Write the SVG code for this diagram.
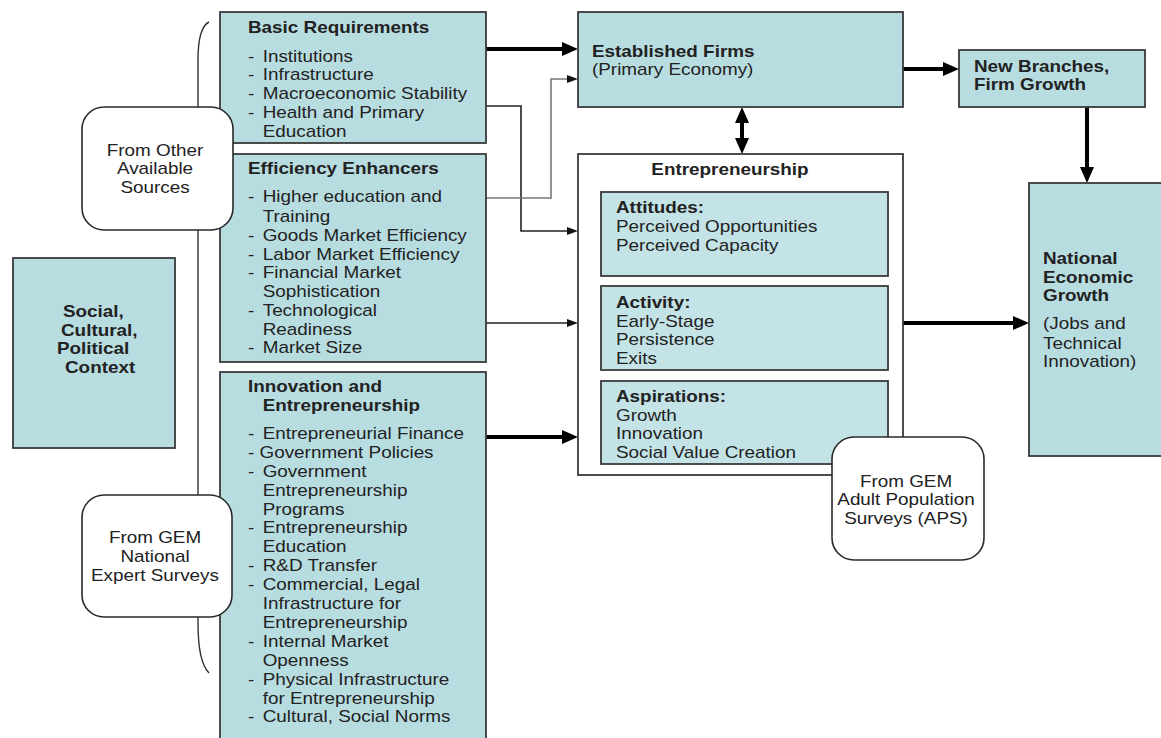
<svg xmlns="http://www.w3.org/2000/svg" width="1161" height="738" viewBox="0 0 1161 738">
<style>
.box{fill:#b8dde1;stroke:#3a3a3a;stroke-width:1.8}
.sub{fill:#c3e3e6;stroke:#3a3a3a;stroke-width:1.8}
.wbox{fill:#ffffff;stroke:#3a3a3a;stroke-width:1.8}
.rbox{fill:#ffffff;stroke:#2a2a2a;stroke-width:1.6}
.t{font-family:"Liberation Sans",Arial,sans-serif;font-size:16px;fill:#222}
.b{font-weight:bold}
.c{text-anchor:middle}
.thick{stroke:#000;stroke-width:4;fill:none}
.thin{stroke:#222;stroke-width:1.6;fill:none}
.gray{stroke:#777;stroke-width:1.6;fill:none}
</style>
<defs>
<marker id="hk" markerUnits="userSpaceOnUse" markerWidth="16" markerHeight="14" refX="2" refY="7" orient="auto-start-reverse"><path d="M0,0 L16,7 L0,14 z" fill="#000"/></marker>
<marker id="hn" markerUnits="userSpaceOnUse" markerWidth="11" markerHeight="8" refX="1" refY="4" orient="auto"><path d="M0,0 L11,4 L0,8 z" fill="#111"/></marker>
</defs>
<rect width="1161" height="738" fill="#ffffff"/>

<path id="bracket" d="M209,22 C201,26 198,40 198,60 L198,623 C198,645 201,665 209,673" fill="none" stroke="#333" stroke-width="1.4"/>

<g id="connectors">
<line class="thick" x1="486" y1="49" x2="564" y2="49" marker-end="url(#hk)"/>
<polyline class="thin" points="486,106 521,106 521,231 568,231" marker-end="url(#hn)"/>
<polyline class="gray" points="486,198 551,198 551,79 568,79" marker-end="url(#hn)"/>
<line class="thin" x1="486" y1="323" x2="568" y2="323" marker-end="url(#hn)"/>
<line class="thick" x1="486" y1="437" x2="564" y2="437" marker-end="url(#hk)"/>
<line class="thick" x1="742" y1="121" x2="742" y2="140" marker-start="url(#hk)" marker-end="url(#hk)"/>
<line class="thick" x1="903" y1="69" x2="945" y2="69" marker-end="url(#hk)"/>
<line class="thick" x1="1087" y1="107" x2="1087" y2="169" marker-end="url(#hk)"/>
<line class="thick" x1="903" y1="323" x2="1015" y2="323" marker-end="url(#hk)"/>
</g>

<g id="social-context">
<rect class="box" x="13" y="258" width="162" height="190"/>
<g transform="matrix(1.18 0 0 1 -10.26 0)">
<text class="t b" x="62.08" y="317">Social,</text>
<text class="t b" x="60.39" y="336">Cultural,</text>
<text class="t b" x="57" y="354">Political</text>
<text class="t b" x="63.78" y="373">Context</text>
</g>
</g>

<g id="basic-requirements">
<rect class="box" x="220" y="12" width="266" height="131"/>
<g transform="matrix(1.18 0 0 1 -44.64 0)">
<text class="t b" x="248" y="33">Basic Requirements</text>
<text class="t" y="62"><tspan x="248">-</tspan><tspan x="260.46">Institutions</tspan></text>
<text class="t" y="80.5"><tspan x="248">-</tspan><tspan x="260.46">Infrastructure</tspan></text>
<text class="t" y="99"><tspan x="248">-</tspan><tspan x="260.46">Macroeconomic Stability</tspan></text>
<text class="t" y="118"><tspan x="248">-</tspan><tspan x="260.46">Health and Primary</tspan></text>
<text class="t" x="260.46" y="137">Education</text>
</g>
</g>

<g id="efficiency-enhancers">
<rect class="box" x="220" y="154" width="266" height="208"/>
<g transform="matrix(1.18 0 0 1 -44.64 0)">
<text class="t b" x="248" y="174">Efficiency Enhancers</text>
<text class="t" y="202"><tspan x="248">-</tspan><tspan x="260.46">Higher education and</tspan></text>
<text class="t" x="260.46" y="222">Training</text>
<text class="t" y="241"><tspan x="248">-</tspan><tspan x="260.46">Goods Market Efficiency</tspan></text>
<text class="t" y="260"><tspan x="248">-</tspan><tspan x="260.46">Labor Market Efficiency</tspan></text>
<text class="t" y="278"><tspan x="248">-</tspan><tspan x="260.46">Financial Market</tspan></text>
<text class="t" x="260.46" y="297">Sophistication</text>
<text class="t" y="316"><tspan x="248">-</tspan><tspan x="260.46">Technological</tspan></text>
<text class="t" x="260.46" y="335">Readiness</text>
<text class="t" y="353"><tspan x="248">-</tspan><tspan x="260.46">Market Size</tspan></text>
</g>
</g>

<g id="innovation-entrepreneurship">
<rect class="box" x="220" y="372" width="266" height="380"/>
<g transform="matrix(1.18 0 0 1 -44.64 0)">
<text class="t b" x="248" y="392">Innovation and</text>
<text class="t b" x="260.46" y="411">Entrepreneurship</text>
<text class="t" y="439"><tspan x="248">-</tspan><tspan x="260.46">Entrepreneurial Finance</tspan></text>
<text class="t" x="248" y="458">- Government Policies</text>
<text class="t" y="477"><tspan x="248">-</tspan><tspan x="260.46">Government</tspan></text>
<text class="t" x="260.46" y="496">Entrepreneurship</text>
<text class="t" x="260.46" y="515">Programs</text>
<text class="t" y="533"><tspan x="248">-</tspan><tspan x="260.46">Entrepreneurship</tspan></text>
<text class="t" x="260.46" y="552">Education</text>
<text class="t" y="571"><tspan x="248">-</tspan><tspan x="260.46">R&amp;D Transfer</tspan></text>
<text class="t" y="590"><tspan x="248">-</tspan><tspan x="260.46">Commercial, Legal</tspan></text>
<text class="t" x="260.46" y="609">Infrastructure for</text>
<text class="t" x="260.46" y="628">Entrepreneurship</text>
<text class="t" y="647"><tspan x="248">-</tspan><tspan x="260.46">Internal Market</tspan></text>
<text class="t" x="260.46" y="666">Openness</text>
<text class="t" y="685"><tspan x="248">-</tspan><tspan x="260.46">Physical Infrastructure</tspan></text>
<text class="t" x="260.46" y="704">for Entrepreneurship</text>
<text class="t" y="722"><tspan x="248">-</tspan><tspan x="260.46">Cultural, Social Norms</tspan></text>
</g>
</g>

<g id="from-other">
<rect class="rbox" x="82" y="107" width="151" height="123" rx="22"/>
<g transform="matrix(1.18 0 0 1 -27.9 0)">
<text class="t c" x="155" y="156">From Other</text>
<text class="t c" x="155" y="174">Available</text>
<text class="t c" x="155" y="193">Sources</text>
</g>
</g>

<g id="from-gem-nes">
<rect class="rbox" x="82" y="495" width="150" height="122" rx="22"/>
<g transform="matrix(1.18 0 0 1 -27.9 0)">
<text class="t c" x="155" y="543">From GEM</text>
<text class="t c" x="155" y="562">National</text>
<text class="t c" x="155" y="581">Expert Surveys</text>
</g>
</g>

<g id="established-firms">
<rect class="box" x="578" y="12" width="325" height="95"/>
<g transform="matrix(1.18 0 0 1 -106.56 0)">
<text class="t b" x="592" y="57">Established Firms</text>
<text class="t" x="592" y="75">(Primary Economy)</text>
</g>
</g>

<g id="entrepreneurship">
<rect class="wbox" x="578" y="154" width="325" height="321"/>
<g transform="matrix(1.18 0 0 1 -131.4 0)">
<text class="t b c" x="730" y="175">Entrepreneurship</text>
</g>
<g id="attitudes">
<rect class="sub" x="601" y="192" width="287" height="84"/>
<g transform="matrix(1.18 0 0 1 -110.88 0)">
<text class="t b" x="616" y="213">Attitudes:</text>
<text class="t" x="616" y="232">Perceived Opportunities</text>
<text class="t" x="616" y="251">Perceived Capacity</text>
</g>
</g>
<g id="activity">
<rect class="sub" x="601" y="286" width="287" height="84"/>
<g transform="matrix(1.18 0 0 1 -110.88 0)">
<text class="t b" x="616" y="308">Activity:</text>
<text class="t" x="616" y="327">Early-Stage</text>
<text class="t" x="616" y="345">Persistence</text>
<text class="t" x="616" y="364">Exits</text>
</g>
</g>
<g id="aspirations">
<rect class="sub" x="601" y="381" width="287" height="83"/>
<g transform="matrix(1.18 0 0 1 -110.88 0)">
<text class="t b" x="616" y="402">Aspirations:</text>
<text class="t" x="616" y="421">Growth</text>
<text class="t" x="616" y="439">Innovation</text>
<text class="t" x="616" y="458">Social Value Creation</text>
</g>
</g>
</g>

<g id="from-gem-aps">
<rect class="rbox" x="832" y="437" width="152" height="123" rx="22"/>
<g transform="matrix(1.18 0 0 1 -163.08 0)">
<text class="t c" x="906" y="487">From GEM</text>
<text class="t c" x="906" y="505">Adult Population</text>
<text class="t c" x="906" y="524">Surveys (APS)</text>
</g>
</g>

<g id="new-branches">
<rect class="box" x="959" y="50" width="186" height="57"/>
<g transform="matrix(1.18 0 0 1 -175.32 0)">
<text class="t b" x="974" y="72">New Branches,</text>
<text class="t b" x="974" y="90">Firm Growth</text>
</g>
</g>

<g id="national-growth">
<rect class="box" x="1029" y="183" width="145" height="273"/>
<g transform="matrix(1.18 0 0 1 -187.74 0)">
<text class="t b" x="1043" y="264">National</text>
<text class="t b" x="1043" y="283">Economic</text>
<text class="t b" x="1043" y="301">Growth</text>
<text class="t" x="1043" y="329">(Jobs and</text>
<text class="t" x="1043" y="349">Technical</text>
<text class="t" x="1043" y="367">Innovation)</text>
</g>
</g>
</svg>
